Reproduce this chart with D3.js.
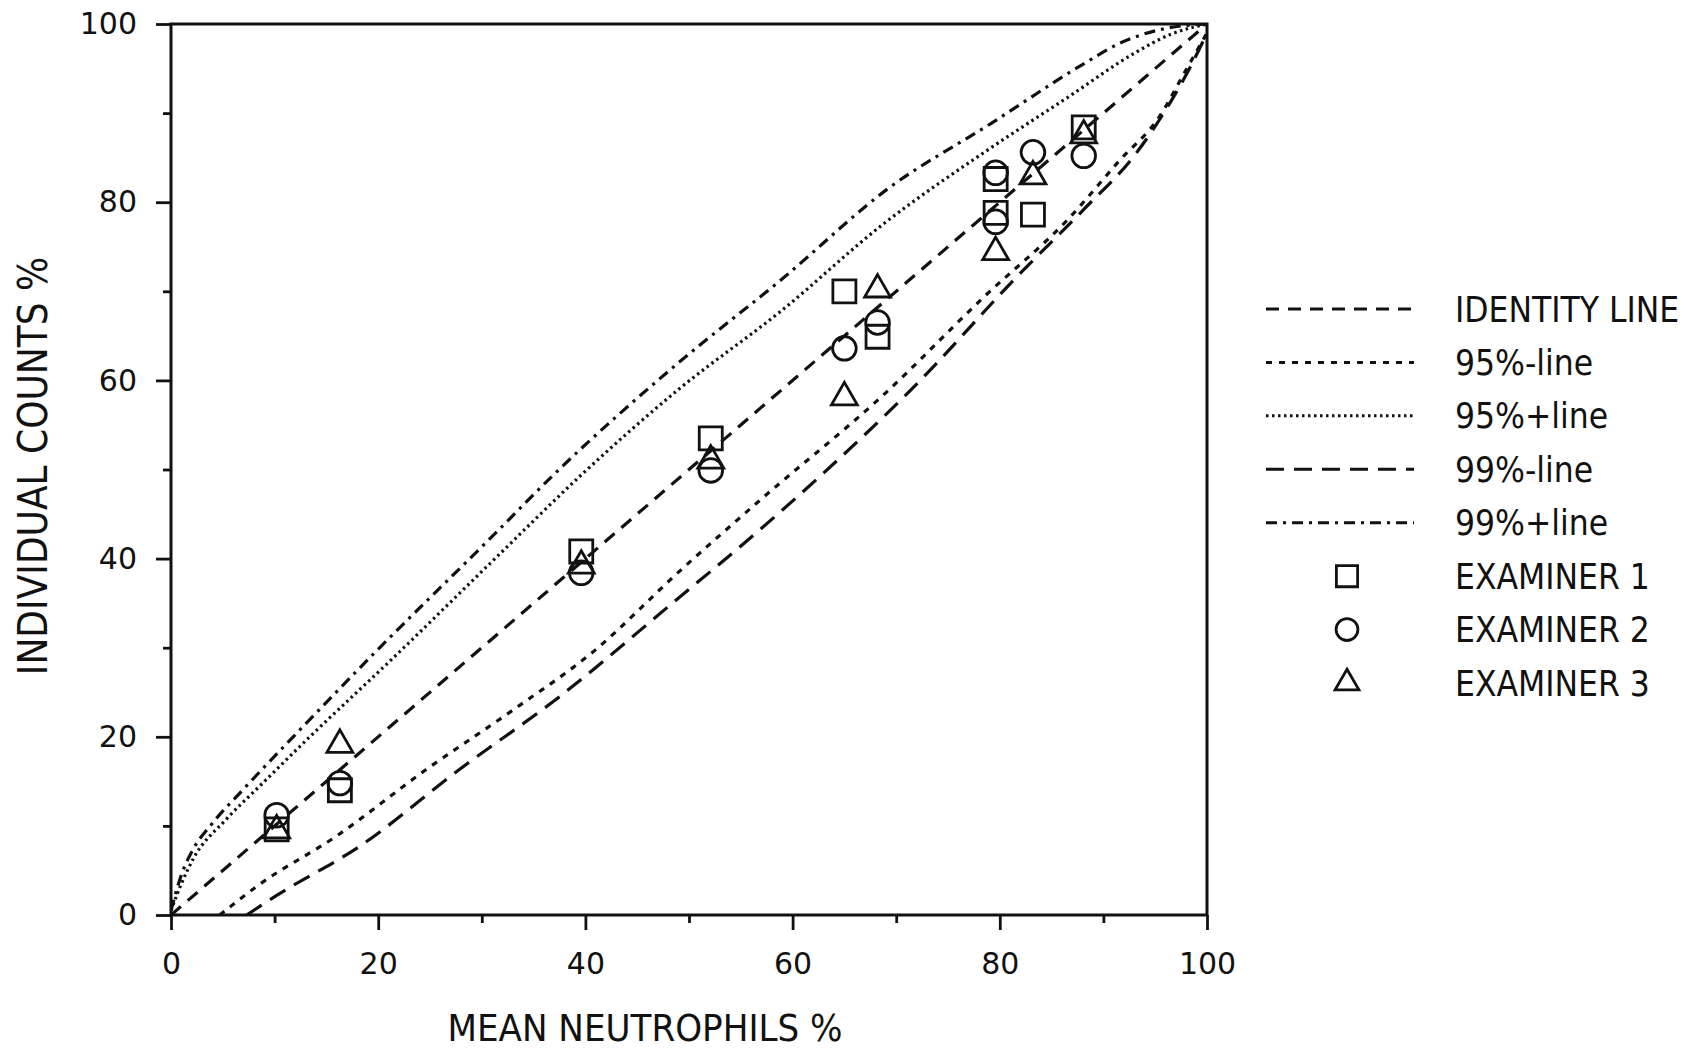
<!DOCTYPE html>
<html>
<head>
<meta charset="utf-8">
<script src="https://cdn.jsdelivr.net/npm/d3@7"></script>
<style>
body { margin: 0; background: #fff; }
text { font-family: "DejaVu Sans", sans-serif; fill: #111; }
.narrow { font-family: "DejaVu Sans Condensed", "DejaVu Sans", sans-serif; font-stretch: condensed; }
</style>
</head>
<body>
<div id="chart"></div>
<script>
// samples: mean neutrophils % and individual counts per examiner
var meanNeutrophils = [10.2, 16.3, 39.6, 52.1, 65.0, 68.2, 79.6, 79.6, 83.2, 88.1];
var examiner1 = [9.6, 14.0, 40.8, 53.5, 70.0, 64.9, 82.6, 78.8, 78.6, 88.4];
var examiner2 = [11.2, 14.8, 38.4, 49.9, 63.6, 66.5, 83.3, 77.8, 85.6, 85.2];
var examiner3 = [9.5, 19.1, 39.2, 51.0, 58.1, 70.2, null, 74.4, 82.9, 87.5];

// reference lines
var identityX = [0, 100];
var identityY = [0, 100];
var upper95X = [0, 1, 2.1, 5.3, 8.5, 13.4, 21.4, 31.1, 39.8, 49, 58.9, 68.7, 78.5, 86.6, 93.1, 96.4, 100];
var upper95Y = [0.5, 3.5, 6.2, 10.7, 14.4, 20, 28.8, 39.8, 49.6, 59, 67.8, 77.5, 85.6, 91.8, 96.8, 98.8, 100];
var upper99X = [0, 1, 2.1, 4, 6.9, 11.8, 19.8, 31.1, 37.1, 48.8, 58.9, 69.3, 79.1, 88.2, 91.5, 96, 100];
var upper99Y = [0.5, 4.5, 7.3, 10.3, 14, 20, 29.6, 42.6, 49.6, 61.8, 71.3, 81.6, 88.8, 95.6, 97.8, 99.5, 100];
var lower95X = [4.7, 8.5, 15.9, 24.6, 33, 40.7, 49.1, 56.9, 68.7, 78.5, 86.6, 91.5, 95.4, 98, 100];
var lower95Y = [0, 3.4, 8.8, 16.3, 23, 29.5, 38.6, 46.6, 58.3, 69.4, 78.1, 84.6, 89.6, 94.9, 99];
var lower99X = [7.3, 10.2, 18.2, 27.8, 37.5, 48.6, 55.6, 62.8, 71.9, 81.7, 88.2, 93.1, 96.4, 98.4, 100];
var lower99Y = [0, 2.2, 7.7, 16.3, 24.5, 35.2, 42, 49.4, 59.5, 71.7, 79.3, 85.4, 91.1, 95.2, 99];

var xTicks = [0, 20, 40, 60, 80, 100];
var yTicks = [0, 20, 40, 60, 80, 100];
var minorTicks = [10, 30, 50, 70, 90];

var legendLabels = ["IDENTITY LINE", "95%-line", "95%+line", "99%-line", "99%+line", "EXAMINER 1", "EXAMINER 2", "EXAMINER 3"];

var padding = { top: 24, right: 493, bottom: 140, left: 171 },
	width = 1700 - padding.left - padding.right,
	height = 1055 - padding.top - padding.bottom;

var svg = d3.select("#chart").append("svg")
	.attr("width", 1700)
	.attr("height", 1055);

var plot = svg.append("g")
	.attr("transform", "translate(" + padding.left + "," + padding.top + ")");

var xScale = d3.scaleLinear().domain([0, 100]).range([0, width]),
	yScale = d3.scaleLinear().domain([0, 100]).range([height, 0]);

// line styles: identity, 95%-, 95%+, 99%-, 99%+
var lines = [
	{ xs: identityX, ys: identityY, dash: "13,9" },
	{ xs: lower95X, ys: lower95Y, dash: "6,7" },
	{ xs: upper95X, ys: upper95Y, dash: "2.5,3.5" },
	{ xs: lower99X, ys: lower99Y, dash: "18,10" },
	{ xs: upper99X, ys: upper99Y, dash: "11,6,3,6" }
];

// axes, major and minor ticks
plot.append("g")
	.attr("transform", "translate(0," + height + ")")
	.call(d3.axisBottom(xScale).tickValues(minorTicks).tickSize(8).tickFormat(""));
plot.append("g")
	.attr("transform", "translate(0," + height + ")")
	.call(d3.axisBottom(xScale).tickValues(xTicks).tickSize(15).tickPadding(23).tickFormat(d3.format("d")));
plot.append("g")
	.call(d3.axisLeft(yScale).tickValues(minorTicks).tickSize(8).tickFormat(""));
plot.append("g")
	.call(d3.axisLeft(yScale).tickValues(yTicks).tickSize(15).tickPadding(19).tickFormat(d3.format("d")));

plot.selectAll(".domain").remove();
plot.selectAll(".tick line").attr("stroke", "#111").attr("stroke-width", 2.8);
plot.selectAll(".tick text")
	.attr("font-size", 30)
	.style("font-family", "'DejaVu Sans', sans-serif")
	.style("fill", "#111");

// frame
plot.append("rect")
	.attr("width", width)
	.attr("height", height)
	.attr("fill", "none")
	.attr("stroke", "#111")
	.attr("stroke-width", 3);

plot.append("clipPath").attr("id", "clip")
	.append("rect").attr("width", width).attr("height", height);

var line = d3.line()
	.x(function(d) { return xScale(d[0]); })
	.y(function(d) { return yScale(d[1]); })
	.curve(d3.curveMonotoneX);

plot.append("g")
	.attr("clip-path", "url(#clip)")
	.selectAll("path.ref")
	.data(lines)
	.enter().append("path")
	.attr("class", "ref")
	.attr("d", function(d) { return line(d.xs.map(function(x, i) { return [x, d.ys[i]]; })); })
	.attr("fill", "none")
	.attr("stroke", "#111")
	.attr("stroke-width", 3.2)
	.attr("stroke-dasharray", function(d) { return d.dash; });

// markers
var symbols = [d3.symbolSquare, d3.symbolCircle, d3.symbolTriangle],
	sizes = [530, 440, 290],
	examiners = [examiner1, examiner2, examiner3];

examiners.forEach(function(vals, k) {
	var pts = [];
	vals.forEach(function(v, i) { if (v != null) pts.push([meanNeutrophils[i], v]); });
	plot.append("g").selectAll("path")
		.data(pts)
		.enter().append("path")
		.attr("transform", function(d) { return "translate(" + xScale(d[0]) + "," + yScale(d[1]) + ")"; })
		.attr("d", d3.symbol().type(symbols[k]).size(sizes[k]))
		.attr("fill", "none")
		.attr("stroke", "#111")
		.attr("stroke-width", 2.8);
});

// axis titles
svg.append("text")
	.attr("class", "narrow")
	.attr("x", 645)
	.attr("y", 1041)
	.attr("text-anchor", "middle")
	.attr("font-size", 38)
	.text("MEAN NEUTROPHILS %");
svg.append("text")
	.attr("class", "narrow")
	.attr("transform", "translate(47,466) rotate(-90)")
	.attr("text-anchor", "middle")
	.attr("font-size", 40)
	.text("INDIVIDUAL COUNTS %");

// legend
var legend = svg.append("g").attr("class", "legend");
var rowY = d3.scalePoint().domain(legendLabels).range([309, 683]);

legend.selectAll("line")
	.data(lines)
	.enter().append("line")
	.attr("x1", 1266)
	.attr("x2", 1414)
	.attr("y1", function(d, i) { return rowY(legendLabels[i]); })
	.attr("y2", function(d, i) { return rowY(legendLabels[i]); })
	.attr("stroke", "#111")
	.attr("stroke-width", 3)
	.attr("stroke-dasharray", function(d) { return d.dash; });

legend.selectAll("path")
	.data(symbols)
	.enter().append("path")
	.attr("transform", function(d, i) { return "translate(1347," + rowY(legendLabels[i + 5]) + ")"; })
	.attr("d", function(d, i) { return d3.symbol().type(d).size(sizes[i] * 0.85)(); })
	.attr("fill", "none")
	.attr("stroke", "#111")
	.attr("stroke-width", 2.8);

legend.selectAll("text")
	.data(legendLabels)
	.enter().append("text")
	.attr("class", "narrow")
	.attr("x", 1455)
	.attr("y", function(d) { return rowY(d); })
	.attr("dy", "0.36em")
	.attr("font-size", 35)
	.text(function(d) { return d; });
</script>
</body>
</html>
